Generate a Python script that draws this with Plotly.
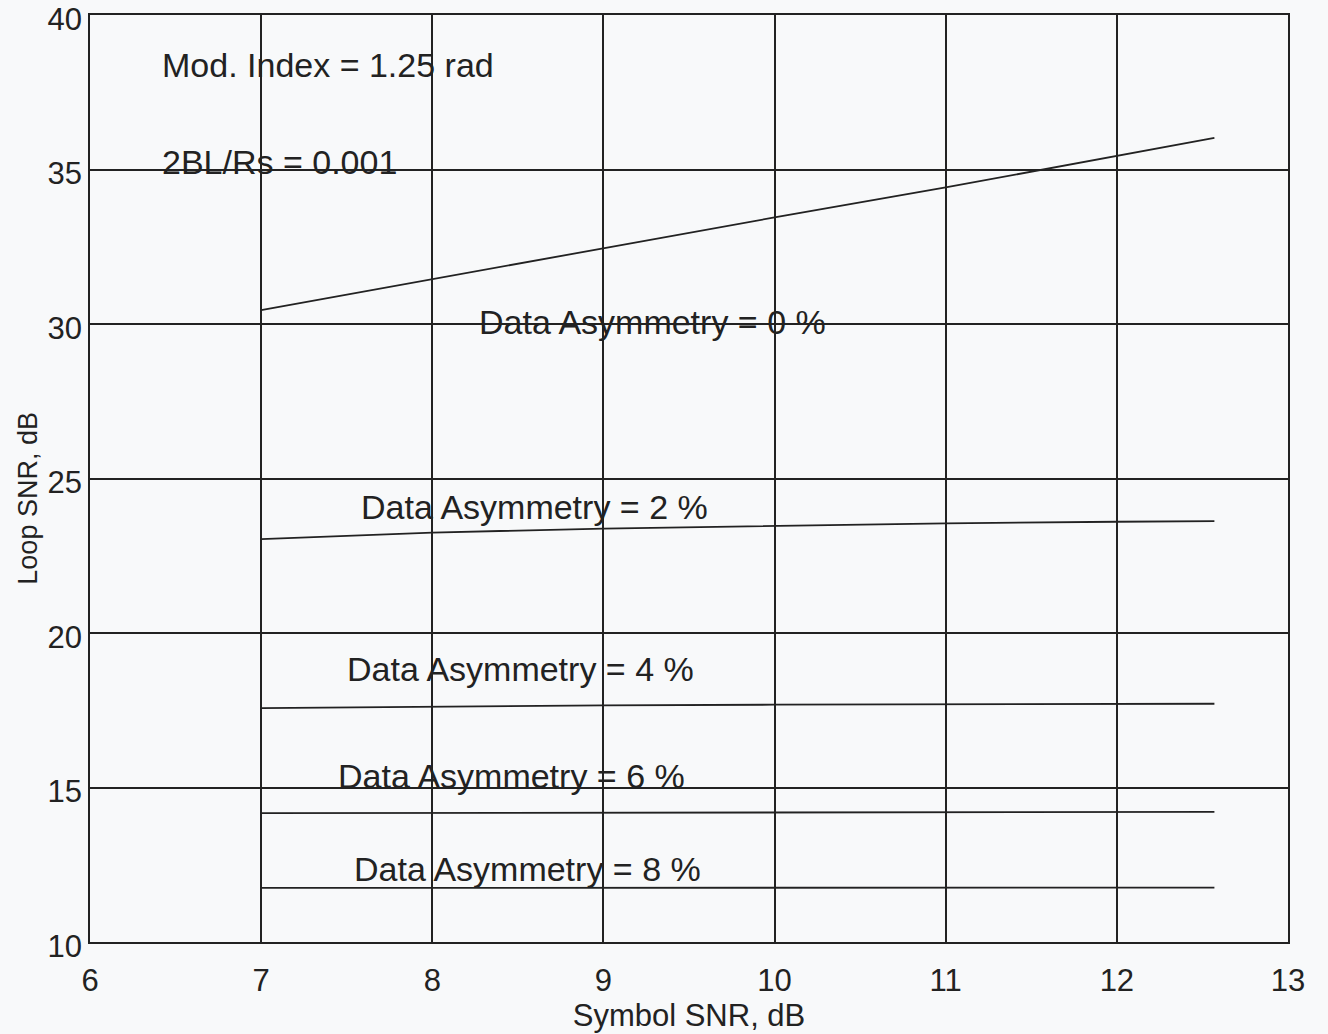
import plotly.graph_objects as go

symbol_snr = [7, 8, 9, 10, 11, 12, 12.57]
loop_0 = [30.45, 31.45, 32.45, 33.45, 34.42, 35.45, 36.02]
loop_2 = [23.04, 23.25, 23.38, 23.47, 23.55, 23.60, 23.62]
loop_4 = [17.57, 17.62, 17.66, 17.68, 17.69, 17.70, 17.71]
loop_6 = [14.17, 14.18, 14.19, 14.20, 14.20, 14.21, 14.21]
loop_8 = [11.75, 11.75, 11.76, 11.76, 11.76, 11.76, 11.76]

series = [loop_0, loop_2, loop_4, loop_6, loop_8]

labels = [
    ("Mod. Index = 1.25 rad", 6.41, 38.38),
    ("2BL/Rs = 0.001", 6.41, 35.24),
    ("Data Asymmetry = 0 %", 8.26, 30.06),
    ("Data Asymmetry = 2 %", 7.57, 24.08),
    ("Data Asymmetry = 4 %", 7.49, 18.83),
    ("Data Asymmetry = 6 %", 7.44, 15.37),
    ("Data Asymmetry = 8 %", 7.53, 12.36),
]

FONT = "Liberation Sans, Arial, sans-serif"
INK = "#222222"

fig = go.Figure()
for ys in series:
    fig.add_trace(go.Scatter(x=symbol_snr, y=ys, mode="lines",
                             line=dict(color=INK, width=1.8),
                             showlegend=False, hoverinfo="skip"))

for text, x, y in labels:
    fig.add_annotation(x=x, y=y, text=text, showarrow=False,
                       xanchor="left", yanchor="middle",
                       font=dict(family=FONT, size=34, color=INK))

# y-axis title placed as a rotated annotation (sits slightly below centre in the original)
fig.add_annotation(xref="paper", yref="paper", x=-0.052, y=0.479,
                   text="Loop SNR, dB", textangle=-90, showarrow=False,
                   xanchor="center", yanchor="middle",
                   font=dict(family=FONT, size=27, color=INK))

axis_common = dict(showgrid=True, gridcolor=INK, gridwidth=1.5,
                   showline=True, linecolor=INK, linewidth=1.5, mirror=True,
                   zeroline=False, ticks="",
                   tickfont=dict(family=FONT, size=31, color=INK))

fig.update_xaxes(range=[6, 13], dtick=1, tick0=6, ticklabelstandoff=10,
                 title=dict(text="Symbol SNR, dB", font=dict(family=FONT, size=31, color=INK), standoff=0),
                 **axis_common)
fig.update_yaxes(range=[10, 40], dtick=5, tick0=10, ticklabelshift=4,
                 **axis_common)

fig.update_layout(width=1328, height=1034,
                  margin=dict(l=90, r=40, t=15, b=92, autoexpand=False),
                  paper_bgcolor="#f8f9fa", plot_bgcolor="#f8f9fa",
                  font=dict(family=FONT, color=INK))

fig.write_html("out.html")
